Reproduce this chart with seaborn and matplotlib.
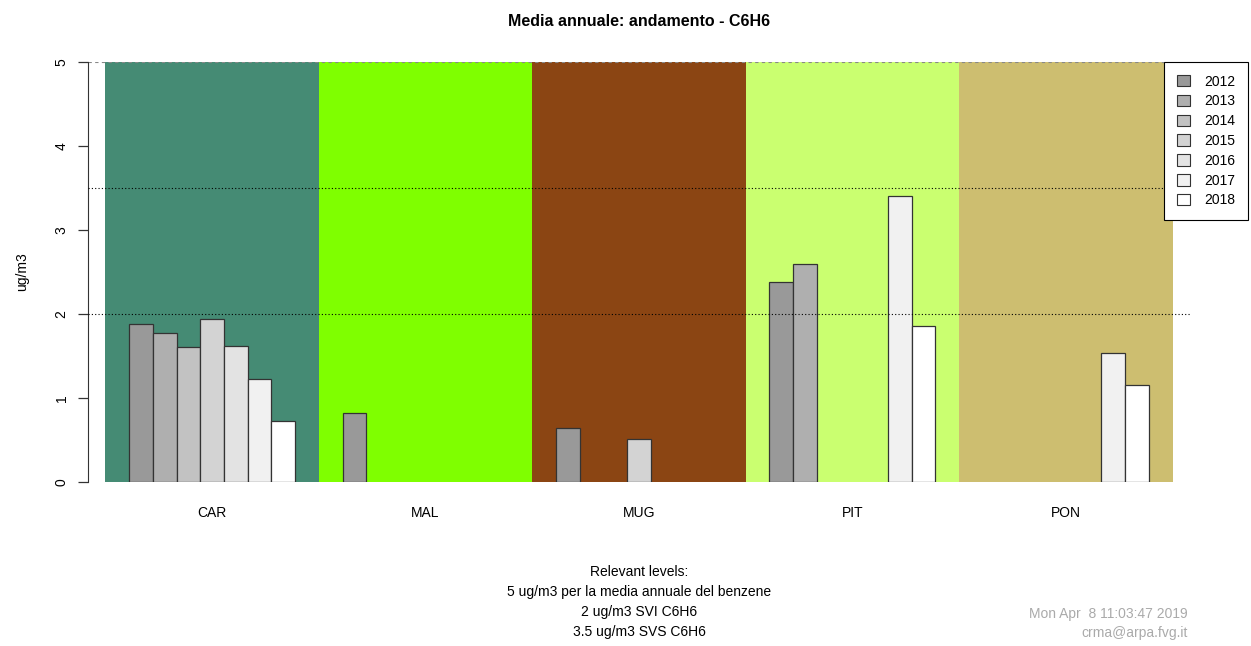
import numpy as np
import pandas as pd
import matplotlib
matplotlib.use('Agg')
import matplotlib.pyplot as plt
import seaborn as sns
from matplotlib.patches import Patch

# values (ug/m3), NaN = no data for that year
stations = ['CAR', 'MAL', 'MUG', 'PIT', 'PON']
years = ['2012', '2013', '2014', '2015', '2016', '2017', '2018']
car = [1.88, 1.77, 1.61, 1.94, 1.62, 1.23, 0.73]
mal = [0.82, np.nan, np.nan, np.nan, np.nan, np.nan, np.nan]
mug = [0.64, np.nan, np.nan, 0.51, np.nan, np.nan, np.nan]
pit = [2.38, 2.60, np.nan, np.nan, np.nan, 3.40, 1.86]
pon = [np.nan, np.nan, np.nan, np.nan, np.nan, 1.54, 1.15]
levels = [2.0, 3.5]
limit = 5.0

station_bg = ['#458B74', '#7FFF00', '#8B4513', '#CAFF70', '#CDBE70']
year_grays = ['#999999', '#AFAFAF', '#C2C2C2', '#D3D3D3', '#E3E3E3', '#F1F1F1', '#FFFFFF']

rows = []
for st, vals in zip(stations, [car, mal, mug, pit, pon]):
    for yr, v in zip(years, vals):
        rows.append({'station': st, 'year': yr, 'value': v})
df = pd.DataFrame(rows)

sns.set_style('white')
plt.rcParams['font.family'] = ['Liberation Sans', 'DejaVu Sans']
plt.rcParams['text.color'] = 'black'
plt.rcParams['axes.labelcolor'] = 'black'
plt.rcParams['xtick.color'] = 'black'
plt.rcParams['ytick.color'] = 'black'

fig = plt.figure(figsize=(12.51, 6.46), dpi=100)
W, H = 1251, 646
ax = fig.add_axes([88 / W, (H - 482) / H, (1190 - 88) / W, (482 - 62) / H])

# coloured background band for each station
for i, c in enumerate(station_bg):
    ax.axvspan(i - 0.5, i + 0.5, color=c, zorder=0, lw=0)

sns.barplot(data=df, x='station', y='value', hue='year', order=stations, hue_order=years,
            palette=year_grays, width=7 / 9, edgecolor='#333333', linewidth=0.9,
            saturation=1, legend=False, ax=ax, zorder=2)

ax.axhline(limit, color='#888888', ls=(0, (3, 3)), lw=0.8, zorder=1)
for lv in levels:
    ax.axhline(lv, color='black', ls=(0, (1, 2)), lw=0.8, zorder=3)

ax.set_xlim(-0.582, 4.582)
ax.set_ylim(0, 5)
ax.set_xlabel('')
ax.set_ylabel('ug/m3', fontsize=10, labelpad=18, color='black')
ax.set_yticks([0, 1, 2, 3, 4, 5])
for s in ['top', 'right', 'bottom']:
    ax.spines[s].set_visible(False)
ax.spines['left'].set_bounds(0, 5)
ax.spines['left'].set_color('#333333')
ax.tick_params(axis='y', left=True, length=7, width=0.9, color='#333333', pad=7,
               labelsize=10, labelcolor='black')
for t in ax.get_yticklabels():
    t.set_rotation(90)
    t.set_va('center')
ax.tick_params(axis='x', bottom=False, length=0, pad=17, labelsize=10, labelcolor='black')

ax.set_title('Media annuale: andamento - C6H6', fontsize=11.5, fontweight='bold', pad=26,
             color='black')

handles = [Patch(facecolor=c, edgecolor='#333333', linewidth=0.8, label=y)
           for y, c in zip(years, year_grays)]
leg = fig.legend(handles=handles, loc='upper right', bbox_to_anchor=(1248 / W, (H - 62) / H),
                 borderaxespad=0, fontsize=10, frameon=True, fancybox=False, framealpha=1,
                 edgecolor='black', handlelength=1.0, handleheight=0.9, handletextpad=1.0,
                 labelspacing=0.42, borderpad=0.9)
leg.get_frame().set_linewidth(0.8)
for t in leg.get_texts():
    t.set_color('black')

foot = 'Relevant levels:\n5 ug/m3 per la media annuale del benzene\n2 ug/m3 SVI C6H6\n3.5 ug/m3 SVS C6H6'
fig.text(639 / W, 1 - 565 / H, foot, ha='center', va='top', fontsize=10, linespacing=1.55,
         color='black')
fig.text(1188 / W, 1 - 607 / H, 'Mon Apr  8 11:03:47 2019\ncrma@arpa.fvg.it', ha='right', va='top',
         fontsize=10, color='#AAAAAA', linespacing=1.5)

fig.savefig('out.png', dpi=100, facecolor='white')
